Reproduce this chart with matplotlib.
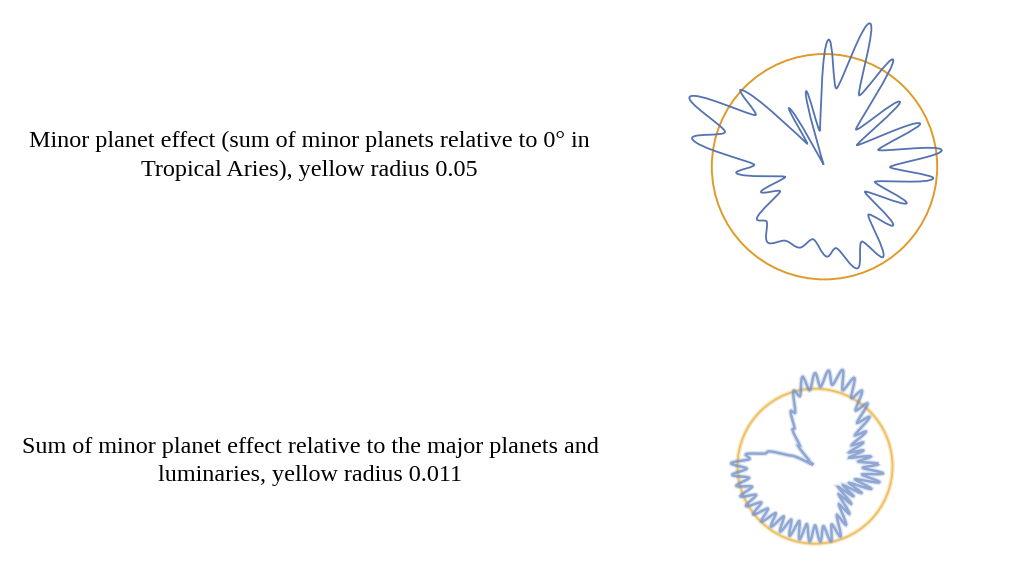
import numpy as np
import matplotlib
matplotlib.use("Agg")
import matplotlib.pyplot as plt
from matplotlib.path import Path
from matplotlib.patches import PathPatch, Circle

# top chart: minor planet effect relative to 0 deg Tropical Aries (units of 1e-3)
top_theta = [8.1, 17.2, 24.4, 33.7, 40.6, 50.1, 57.2, 64.3, 72.4, 81.2,
             88.4, 97.0, 103.9, 112.0, 121.1, 127.3, 137.2, 143.4, 152.5, 160.6,
             168.2, 177.8, 184.3, 194.2, 201.5, 209.3, 217.2, 223.6, 233.0, 241.9,
             253.2, 261.2, 271.4, 278.5, 288.0, 296.4, 303.2, 312.2, 319.7, 328.3,
             336.0, 343.5, 353.9, 359.7]
top_r = [52.5, 25.0, 46.5, 17.3, 44.1, 21.8, 56.3, 35.3, 66.7, 35.2,
         56.2, 16.4, 34.3, 1.0, 30.3, 13.0, 50.1, 38.4, 67.3, 46.8,
         59.9, 31.6, 39.1, 18.1, 30.3, 22.6, 37.6, 35.4, 42.0, 37.2,
         37.5, 32.6, 39.9, 36.6, 47.4, 37.1, 47.7, 28.9, 40.0, 21.1,
         39.9, 23.4, 48.5, 29.1]
top_radius = 0.05

# bottom chart: relative to the major planets and luminaries (units of 1e-3)
bot_theta = [2, 6, 10, 14, 18, 22, 26, 30, 34, 38, 42, 46, 50, 54, 58, 62, 66, 70,
             74, 78, 82, 86, 90, 94, 98, 102, 106, 110, 114, 118, 122, 126, 130, 134,
             138, 142, 146, 150, 154, 158, 162, 166, 170, 174, 178, 182, 186, 190,
             194, 198, 202, 206, 210, 214, 218, 222, 226, 230, 234, 238, 242, 246,
             250, 254, 258, 262, 266, 270, 274, 278, 282, 286, 290, 294, 298, 302,
             306, 310, 314, 318, 322, 326, 330, 334, 338, 342, 346, 350, 354, 358]
bot_r = [9.0, 6.2, 8.0, 5.0, 7.2, 5.2, 7.6, 6.0, 8.7, 7.2, 10.4, 8.6, 11.6, 9.8,
         12.6, 11.0, 13.7, 11.5, 14.2, 11.8, 13.7, 11.3, 13.2, 10.8, 12.8, 10.2,
         11.1, 8.2, 8.5, 6.2, 6.0, 3.7, 3.7, 1.4, 1.4, 0.3, 1.1, 0.6, 3.1, 4.3,
         6.8, 7.4, 9.9, 9.4, 11.9, 9.7, 11.8, 9.5, 11.5, 9.4, 11.4, 9.3, 11.3, 9.2,
         11.1, 9.0, 10.9, 8.7, 10.6, 8.4, 10.5, 8.3, 10.5, 8.1, 10.6, 8.3, 10.7, 8.4,
         10.7, 8.6, 10.9, 8.6, 10.6, 7.6, 9.4, 6.4, 8.3, 5.2, 7.4, 4.4, 6.9, 4.8,
         7.6, 5.4, 8.6, 6.0, 9.4, 6.8, 9.7, 6.8]
bot_radius = 0.011

label_top = "Minor planet effect (sum of minor planets relative to 0° in\nTropical Aries), yellow radius 0.05"
label_bot = "Sum of minor planet effect relative to the major planets and\nluminaries, yellow radius 0.011"

BLUE = "#5473b0"
ORANGE = "#df9a2a"
W, H = 1015, 585


def polar_smooth_path(theta_deg, r_milli):
    # closed r(theta) curve through the read points: cubic hermite in theta,
    # written as cartesian bezier segments
    t = np.radians(theta_deg)
    r = np.asarray(r_milli) / 1000.0
    n = len(t)
    # slope dr/dtheta from the neighbouring points (wrapping round)
    dr = np.empty(n)
    for i in range(n):
        span = (t[(i + 1) % n] - t[i - 1]) % (2 * np.pi)
        dr[i] = (r[(i + 1) % n] - r[i - 1]) / span
    pts = np.column_stack([r * np.cos(t), r * np.sin(t)])
    tan = np.column_stack([dr * np.cos(t) - r * np.sin(t),
                           dr * np.sin(t) + r * np.cos(t)])
    verts = [pts[0]]
    codes = [Path.MOVETO]
    for i in range(n):
        j = (i + 1) % n
        h = (t[j] - t[i]) % (2 * np.pi)
        verts += [pts[i] + tan[i] * h / 3, pts[j] - tan[j] * h / 3, pts[j]]
        codes += [Path.CURVE4] * 3
    return Path(verts, codes)


def add_radial_axes(fig, cx, cy, half, radius, radius_px):
    # square axes centred on pixel (cx, cy), data radius mapped to radius_px
    ax = fig.add_axes([(cx - half) / W, (H - cy - half) / H, 2 * half / W, 2 * half / H])
    lim = half * radius / radius_px
    ax.set_xlim(-lim, lim)
    ax.set_ylim(-lim, lim)
    ax.axis("off")
    return ax


fig = plt.figure(figsize=(W / 100, H / 100), dpi=100)

ax1 = add_radial_axes(fig, 824.5, 166.7, 160, top_radius, 112.7)
ax1.add_patch(Circle((0, 0), top_radius, fill=False, ec=ORANGE, lw=1.4))
ax1.add_patch(PathPatch(polar_smooth_path(top_theta, top_r), fill=False, ec=BLUE, lw=1.3))

ax2 = add_radial_axes(fig, 815, 466.2, 120, bot_radius, 77.5)
ax2.add_patch(Circle((0, 0), bot_radius, fill=False, ec="#f2c466", lw=3.2, alpha=0.4))
ax2.add_patch(Circle((0, 0), bot_radius, fill=False, ec="#e9b040", lw=1.3, alpha=0.7))
bot_path = polar_smooth_path(bot_theta, bot_r)
ax2.add_patch(PathPatch(bot_path, fill=False, ec="#8ca6d4", lw=3.6, alpha=0.3))
ax2.add_patch(PathPatch(bot_path, fill=False, ec="#6f8dc6", lw=1.8, alpha=0.7))

fig.text(309 / W, 1 - 155.5 / H, label_top, ha="center", va="center",
         family="Liberation Serif", fontsize=17.4, linespacing=1.48)
fig.text(310 / W, 1 - 461.5 / H, label_bot, ha="center", va="center",
         family="Liberation Serif", fontsize=17.4, linespacing=1.48)

fig.savefig("out.png", dpi=100)
